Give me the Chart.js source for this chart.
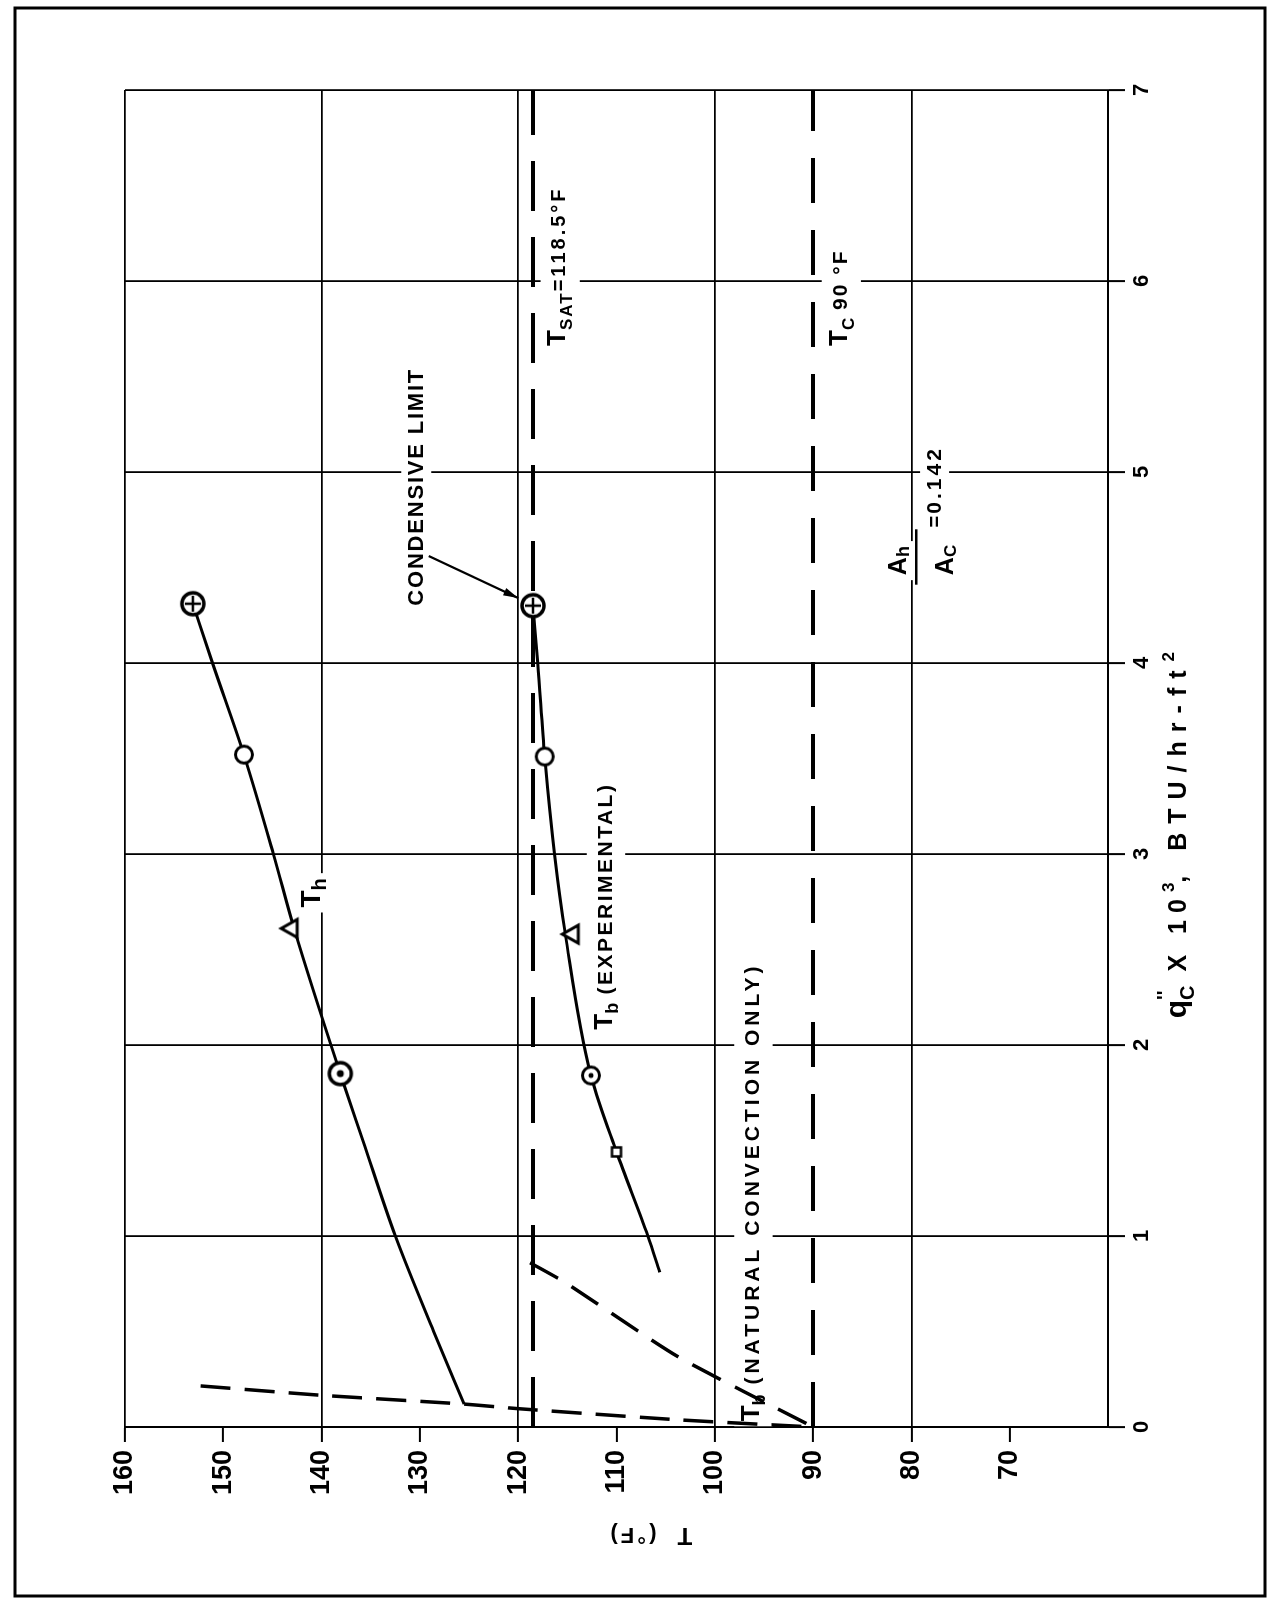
<!DOCTYPE html>
<html>
<head>
<meta charset="utf-8">
<script src="https://cdn.jsdelivr.net/npm/chart.js@4.4.1/dist/chart.umd.min.js"></script>
<style>
html, body { margin: 0; padding: 0; background: #fff; }
body { width: 1287px; height: 1598px; position: relative; overflow: hidden; }
/* the plot is drawn upright (q across, T up) and the whole canvas is turned a quarter left */
#wrap { position: absolute; left: 0; top: 0; width: 1598px; height: 1287px;
        transform-origin: 0 0; transform: translate(0, 1598px) rotate(-90deg); }
</style>
</head>
<body>
<div id="wrap"><canvas id="chart" width="1598" height="1287"></canvas></div>
<script>
'use strict';

// heat flux q''c in 10^3 BTU/hr-ft2, temperatures in deg F
const thQ = [4.31, 3.52, 2.61, 1.85];
const thT = [153.1, 147.9, 143.2, 138.1];
const thMarks = ['plus', 'circle', 'triangle', 'dot'];

const tbQ = [4.30, 3.51, 2.58, 1.84, 1.44];
const tbT = [118.5, 117.3, 114.6, 112.6, 110.0];
const tbMarks = ['plus', 'circle', 'triangle', 'dotSmall', 'square'];

// faired curves through the test points
const thCurveQ = [0.12, 0.5, 1.0, 1.5, 1.85, 2.61, 3.0, 3.52, 4.0, 4.31];
const thCurveT = [125.5, 128.6, 132.5, 135.8, 138.1, 142.8, 144.9, 147.9, 151.1, 153.1];
const tbCurveQ = [0.81, 1.0, 1.44, 1.84, 2.58, 3.0, 3.51, 4.0, 4.30];
const tbCurveT = [105.6, 106.8, 110.0, 112.6, 115.2, 116.3, 117.3, 118.0, 118.5];

// dashed curves near q = 0 (natural convection)
const natBulkQ = [0.86, 0.756, 0.37, 0];
const natBulkT = [118.8, 115.2, 103.8, 90];
const natHotQ = [0.215, 0.166, 0.12, 0.096, 0.037, 0];
const natHotT = [152.3, 140, 125.5, 120, 103.5, 90];

const tSat = 118.5;
const tCold = 90;
const qRange = [0, 7];
const tRange = [60, 160];

function pts(xs, ys) { return xs.map((x, i) => ({ x: x, y: ys[i] })); }

// marker glyphs
function markCanvas(kind) {
  const c = document.createElement('canvas');
  c.width = 30; c.height = 30;
  const g = c.getContext('2d');
  const m = 15;
  g.strokeStyle = '#000'; g.fillStyle = '#fff'; g.lineWidth = 3;
  if (kind === 'plus' || kind === 'dot' || kind === 'circle' || kind === 'dotSmall') {
    const r = (kind === 'plus' || kind === 'dot') ? 11 : 8.5;
    g.lineWidth = (kind === 'plus' || kind === 'dot') ? 3.5 : 3;
    g.beginPath(); g.arc(m, m, r, 0, Math.PI * 2); g.fill(); g.stroke();
    if (kind === 'plus') {
      g.lineWidth = 2.5;
      g.beginPath(); g.moveTo(m - 8, m); g.lineTo(m + 8, m); g.moveTo(m, m - 8); g.lineTo(m, m + 8); g.stroke();
    }
    if (kind === 'dot' || kind === 'dotSmall') {
      g.fillStyle = '#000';
      g.beginPath(); g.arc(m, m, kind === 'dot' ? 3.5 : 2.5, 0, Math.PI * 2); g.fill();
    }
  } else if (kind === 'triangle') {
    g.beginPath(); g.moveTo(m, m - 9); g.lineTo(m - 9, m + 7); g.lineTo(m + 9, m + 7); g.closePath();
    g.fill(); g.stroke();
  } else if (kind === 'square') {
    g.lineWidth = 2.5;
    g.fillRect(m - 4.5, m - 4.5, 9, 9); g.strokeRect(m - 4.5, m - 4.5, 9, 9);
  }
  return c;
}
const marks = {};
['plus', 'circle', 'triangle', 'dot', 'dotSmall', 'square'].forEach(k => { marks[k] = markCanvas(k); });

// text pieces: [text, size, dy, letterSpacing, noAdvance]
const notes = [
  { q: 5.66, t: 115.2, parts: [['T', 26], ['SAT', 17, 7, 2], ['=118.5°F', 20, 0, 3]] },
  { q: 5.66, t: 86.6, parts: [['T', 26], ['C', 17, 7], [' 90 °F', 21, 0, 2]] },
  { q: 4.30, t: 129.7, parts: [['CONDENSIVE LIMIT', 22, 0, 1.8]] },
  { q: 4.46, t: 80.6, parts: [['A', 25], ['h', 18, 3]] },
  { q: 4.46, t: 75.8, parts: [['A', 25], ['C', 17, 3]] },
  { q: 4.71, t: 77.0, parts: [['=', 20, 0, 2], ['0.142', 21, 0, 3]] },
  { q: 2.72, t: 140.2, parts: [['T', 28], ['h', 20, 6]] },
  { q: 2.08, t: 110.5, parts: [['T', 26], ['b', 18, 6], [' (EXPERIMENTAL)', 21, 0, 2.5]] },
  { q: 0.03, t: 95.5, parts: [['T', 26], ['b', 18, 6], [' (NATURAL CONVECTION ONLY)', 21, 0, 4]] }
];
const qTitle = [['q', 30], ["''", 20, -15, 0, true], ['C', 20, 8], [' X 10', 25, 0, 7], ['3', 17, -12],
                [', BTU/hr-ft', 25, 0, 9], ['2', 17, -12]];

function fontOf(size) { return 'bold ' + size + 'px "Liberation Sans", Arial, sans-serif'; }
function partWidth(ctx, p) {
  ctx.font = fontOf(p[1]);
  ctx.letterSpacing = '0px';
  return ctx.measureText(p[0]).width + (p[3] || 0) * p[0].length;
}
function partsWidth(ctx, parts) {
  return parts.reduce((s, p) => s + (p[4] ? 0 : partWidth(ctx, p)), 0);
}
function drawParts(ctx, parts, x, y) {
  let cx = x;
  ctx.textAlign = 'left'; ctx.textBaseline = 'alphabetic'; ctx.fillStyle = '#000';
  parts.forEach(p => {
    const w = partWidth(ctx, p);
    ctx.font = fontOf(p[1]);
    ctx.letterSpacing = (p[3] || 0) + 'px';
    ctx.fillText(p[0], cx, y + (p[2] || 0));
    if (!p[4]) cx += w;
  });
  ctx.letterSpacing = '0px';
}

const decor = {
  id: 'decor',
  beforeDatasetsDraw(chart) {
    // white patches where the lettering breaks the grid
    const ctx = chart.ctx, xs = chart.scales.x, ys = chart.scales.y;
    ctx.save();
    ctx.fillStyle = '#fff';
    notes.forEach(n => {
      const x = xs.getPixelForValue(n.q), y = ys.getPixelForValue(n.t);
      const big = Math.max(...n.parts.map(p => p[1]));
      const low = Math.max(0, ...n.parts.map(p => (p[2] || 0) > 0 ? p[2] + p[1] * 0.2 : p[1] * 0.2));
      ctx.fillRect(x - 5, y - big * 0.8 - 4, partsWidth(ctx, n.parts) + 10, big * 0.8 + low + 8);
    });
    ctx.restore();
  },
  afterDatasetsDraw(chart) {
    const ctx = chart.ctx, xs = chart.scales.x, ys = chart.scales.y, a = chart.chartArea;
    ctx.save();
    notes.forEach(n => drawParts(ctx, n.parts, xs.getPixelForValue(n.q), ys.getPixelForValue(n.t)));

    // fraction bar of Ah/Ac
    ctx.strokeStyle = '#000'; ctx.lineWidth = 2.5;
    ctx.beginPath();
    ctx.moveTo(xs.getPixelForValue(4.41), ys.getPixelForValue(79.5));
    ctx.lineTo(xs.getPixelForValue(4.70), ys.getPixelForValue(79.5));
    ctx.stroke();

    // arrow to the condensive limit point
    const x1 = xs.getPixelForValue(4.56), y1 = ys.getPixelForValue(129.1);
    const x2 = xs.getPixelForValue(4.34), y2 = ys.getPixelForValue(120.0);
    const ang = Math.atan2(y2 - y1, x2 - x1);
    ctx.lineWidth = 2.2;
    ctx.beginPath(); ctx.moveTo(x1, y1); ctx.lineTo(x2, y2); ctx.stroke();
    ctx.fillStyle = '#000';
    ctx.beginPath();
    ctx.moveTo(x2, y2);
    ctx.lineTo(x2 - 15 * Math.cos(ang) + 4 * Math.sin(ang), y2 - 15 * Math.sin(ang) - 4 * Math.cos(ang));
    ctx.lineTo(x2 - 15 * Math.cos(ang) - 4 * Math.sin(ang), y2 - 15 * Math.sin(ang) + 4 * Math.cos(ang));
    ctx.closePath(); ctx.fill();

    // axis titles
    drawParts(ctx, qTitle, xs.getPixelForValue(2.14), a.bottom + 78);
    ctx.translate(a.left - 101, ys.getPixelForValue(106.6));
    ctx.rotate(-Math.PI / 2);
    const tt = [['T', 24, 0, 3], ['  (°F)', 22, 0, 3]];
    drawParts(ctx, tt, -partsWidth(ctx, tt) / 2, 0);
    ctx.restore();
  },
  afterDraw(chart) {
    const ctx = chart.ctx;
    ctx.save();
    ctx.strokeStyle = '#000'; ctx.lineWidth = 3;
    ctx.strokeRect(2, 15, 1588, 1250);
    ctx.restore();
  }
};

Chart.defaults.color = '#000';
Chart.defaults.font.family = '"Liberation Sans", Arial, sans-serif';
Chart.defaults.font.weight = 'bold';

const ctx = document.getElementById('chart').getContext('2d');
new Chart(ctx, {
  type: 'scatter',
  data: {
    datasets: [
      { label: 'Th points', data: pts(thQ, thT), showLine: false, pointRadius: 10,
        pointStyle: thMarks.map(k => marks[k]) },
      { label: 'Tb points', data: pts(tbQ, tbT), showLine: false, pointRadius: 10,
        pointStyle: tbMarks.map(k => marks[k]) },
      { label: 'Th', data: pts(thCurveQ, thCurveT), showLine: true, pointRadius: 0,
        borderColor: '#000', borderWidth: 3, cubicInterpolationMode: 'monotone' },
      { label: 'Tb (experimental)', data: pts(tbCurveQ, tbCurveT), showLine: true, pointRadius: 0,
        borderColor: '#000', borderWidth: 3, cubicInterpolationMode: 'monotone' },
      { label: 'Tb (natural convection only)', data: pts(natBulkQ, natBulkT), showLine: true, pointRadius: 0,
        borderColor: '#000', borderWidth: 3.5, borderDash: [32, 16], tension: 0.2 },
      { label: 'Th (natural convection only)', data: pts(natHotQ, natHotT), showLine: true, pointRadius: 0,
        borderColor: '#000', borderWidth: 3.5, borderDash: [30, 14], tension: 0.2 },
      { label: 'T sat', data: pts(qRange, [tSat, tSat]), showLine: true, pointRadius: 0,
        borderColor: '#000', borderWidth: 4, borderDash: [50, 26] },
      { label: 'T c', data: pts(qRange, [tCold, tCold]), showLine: true, pointRadius: 0,
        borderColor: '#000', borderWidth: 4, borderDash: [45, 27] }
    ]
  },
  options: {
    responsive: false,
    animation: false,
    devicePixelRatio: 1,
    layout: { padding: { top: 125, right: 90, bottom: 0, left: 0 } },
    plugins: { legend: { display: false }, tooltip: { enabled: false } },
    scales: {
      x: {
        type: 'linear', min: qRange[0], max: qRange[1],
        ticks: { stepSize: 1, padding: 4, maxRotation: 0, font: { size: 22, weight: 'bold' } },
        grid: { color: '#000', lineWidth: 1.8, tickLength: 17, tickColor: '#000', tickWidth: 2 },
        border: { color: '#000', width: 2 },
        afterFit: s => { s.height = 179; }
      },
      y: {
        type: 'linear', min: tRange[0], max: tRange[1],
        ticks: { stepSize: 10, padding: 8, font: { size: 27, weight: 'bold' },
                 callback: v => (v === 60 ? '' : v) },
        grid: {
          color: c => (c.tick && c.tick.value % 20 === 0 ? '#000' : 'rgba(0,0,0,0)'),
          tickColor: c => (c.tick && c.tick.value === 60 ? 'rgba(0,0,0,0)' : '#000'),
          lineWidth: 1.8, tickLength: 15, tickWidth: 2
        },
        border: { color: '#000', width: 2 },
        afterFit: s => { s.width = 171; }
      }
    }
  },
  plugins: [decor]
});
</script>
</body>
</html>
